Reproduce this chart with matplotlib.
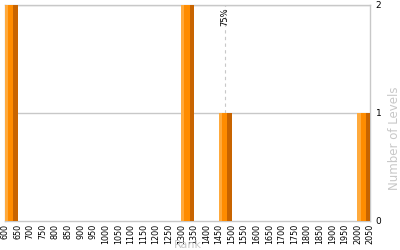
import matplotlib
matplotlib.use('Agg')
import matplotlib.pyplot as plt
import numpy as np

# rank histogram: left edge of each 50-wide bin and level count
rank_bins = [600, 1300, 1450, 2000]
level_counts = [2, 2, 1, 1]
bin_width = 50
percentile_rank = 1475
percentile_label = '75%'

x_ticks = list(range(600, 2051, 50))
y_ticks = [0, 1, 2]

grey = '#c8c8c8'

fig = plt.figure(figsize=(4, 2.5), dpi=100)
ax = fig.add_axes([0.0125, 0.116, 0.9125, 0.864])

# each bar is drawn as three stripes to mimic the shaded look
stripes = [(0.0, 0.25, '#ffaa3c'), (0.25, 0.42, '#ff8c00'), (0.67, 0.33, '#c86400')]
for start, frac, color in stripes:
    ax.bar(np.array(rank_bins) + start * bin_width, level_counts,
           width=frac * bin_width, align='edge', color=color, linewidth=0, zorder=3)

ax.set_xlim(600, 2050)
ax.set_ylim(0, 2)

# horizontal grid
for y in y_ticks[1:]:
    ax.axhline(y, color=grey, linewidth=1, zorder=1)

# percentile marker
ax.plot([percentile_rank, percentile_rank], [1, 2], color=grey, linestyle='--',
        linewidth=0.8, dashes=(3, 3), zorder=2)
ax.text(percentile_rank, 1.98, percentile_label, rotation=90, ha='center', va='top',
        fontsize=6, color='black')

ax.set_xticks(x_ticks)
ax.set_xticklabels([str(t) for t in x_ticks], rotation=90, fontsize=5.8)
ax.yaxis.tick_right()
ax.set_yticks(y_ticks)
ax.set_yticklabels([str(t) for t in y_ticks], fontsize=6.5, va='center')
ax.tick_params(length=0, pad=2)
ax.tick_params(axis='y', pad=4)

for side in ['left', 'right', 'top', 'bottom']:
    ax.spines[side].set_color(grey)
    ax.spines[side].set_linewidth(1)

fig.text(0.985, 0.448, 'Number of Levels', rotation=90, ha='center', va='center',
         color=grey, fontsize=8.5)
fig.text(0.47, 0.0, 'Rank', ha='center', va='bottom', color=grey, fontsize=8)

fig.savefig('out.png', dpi=100)
